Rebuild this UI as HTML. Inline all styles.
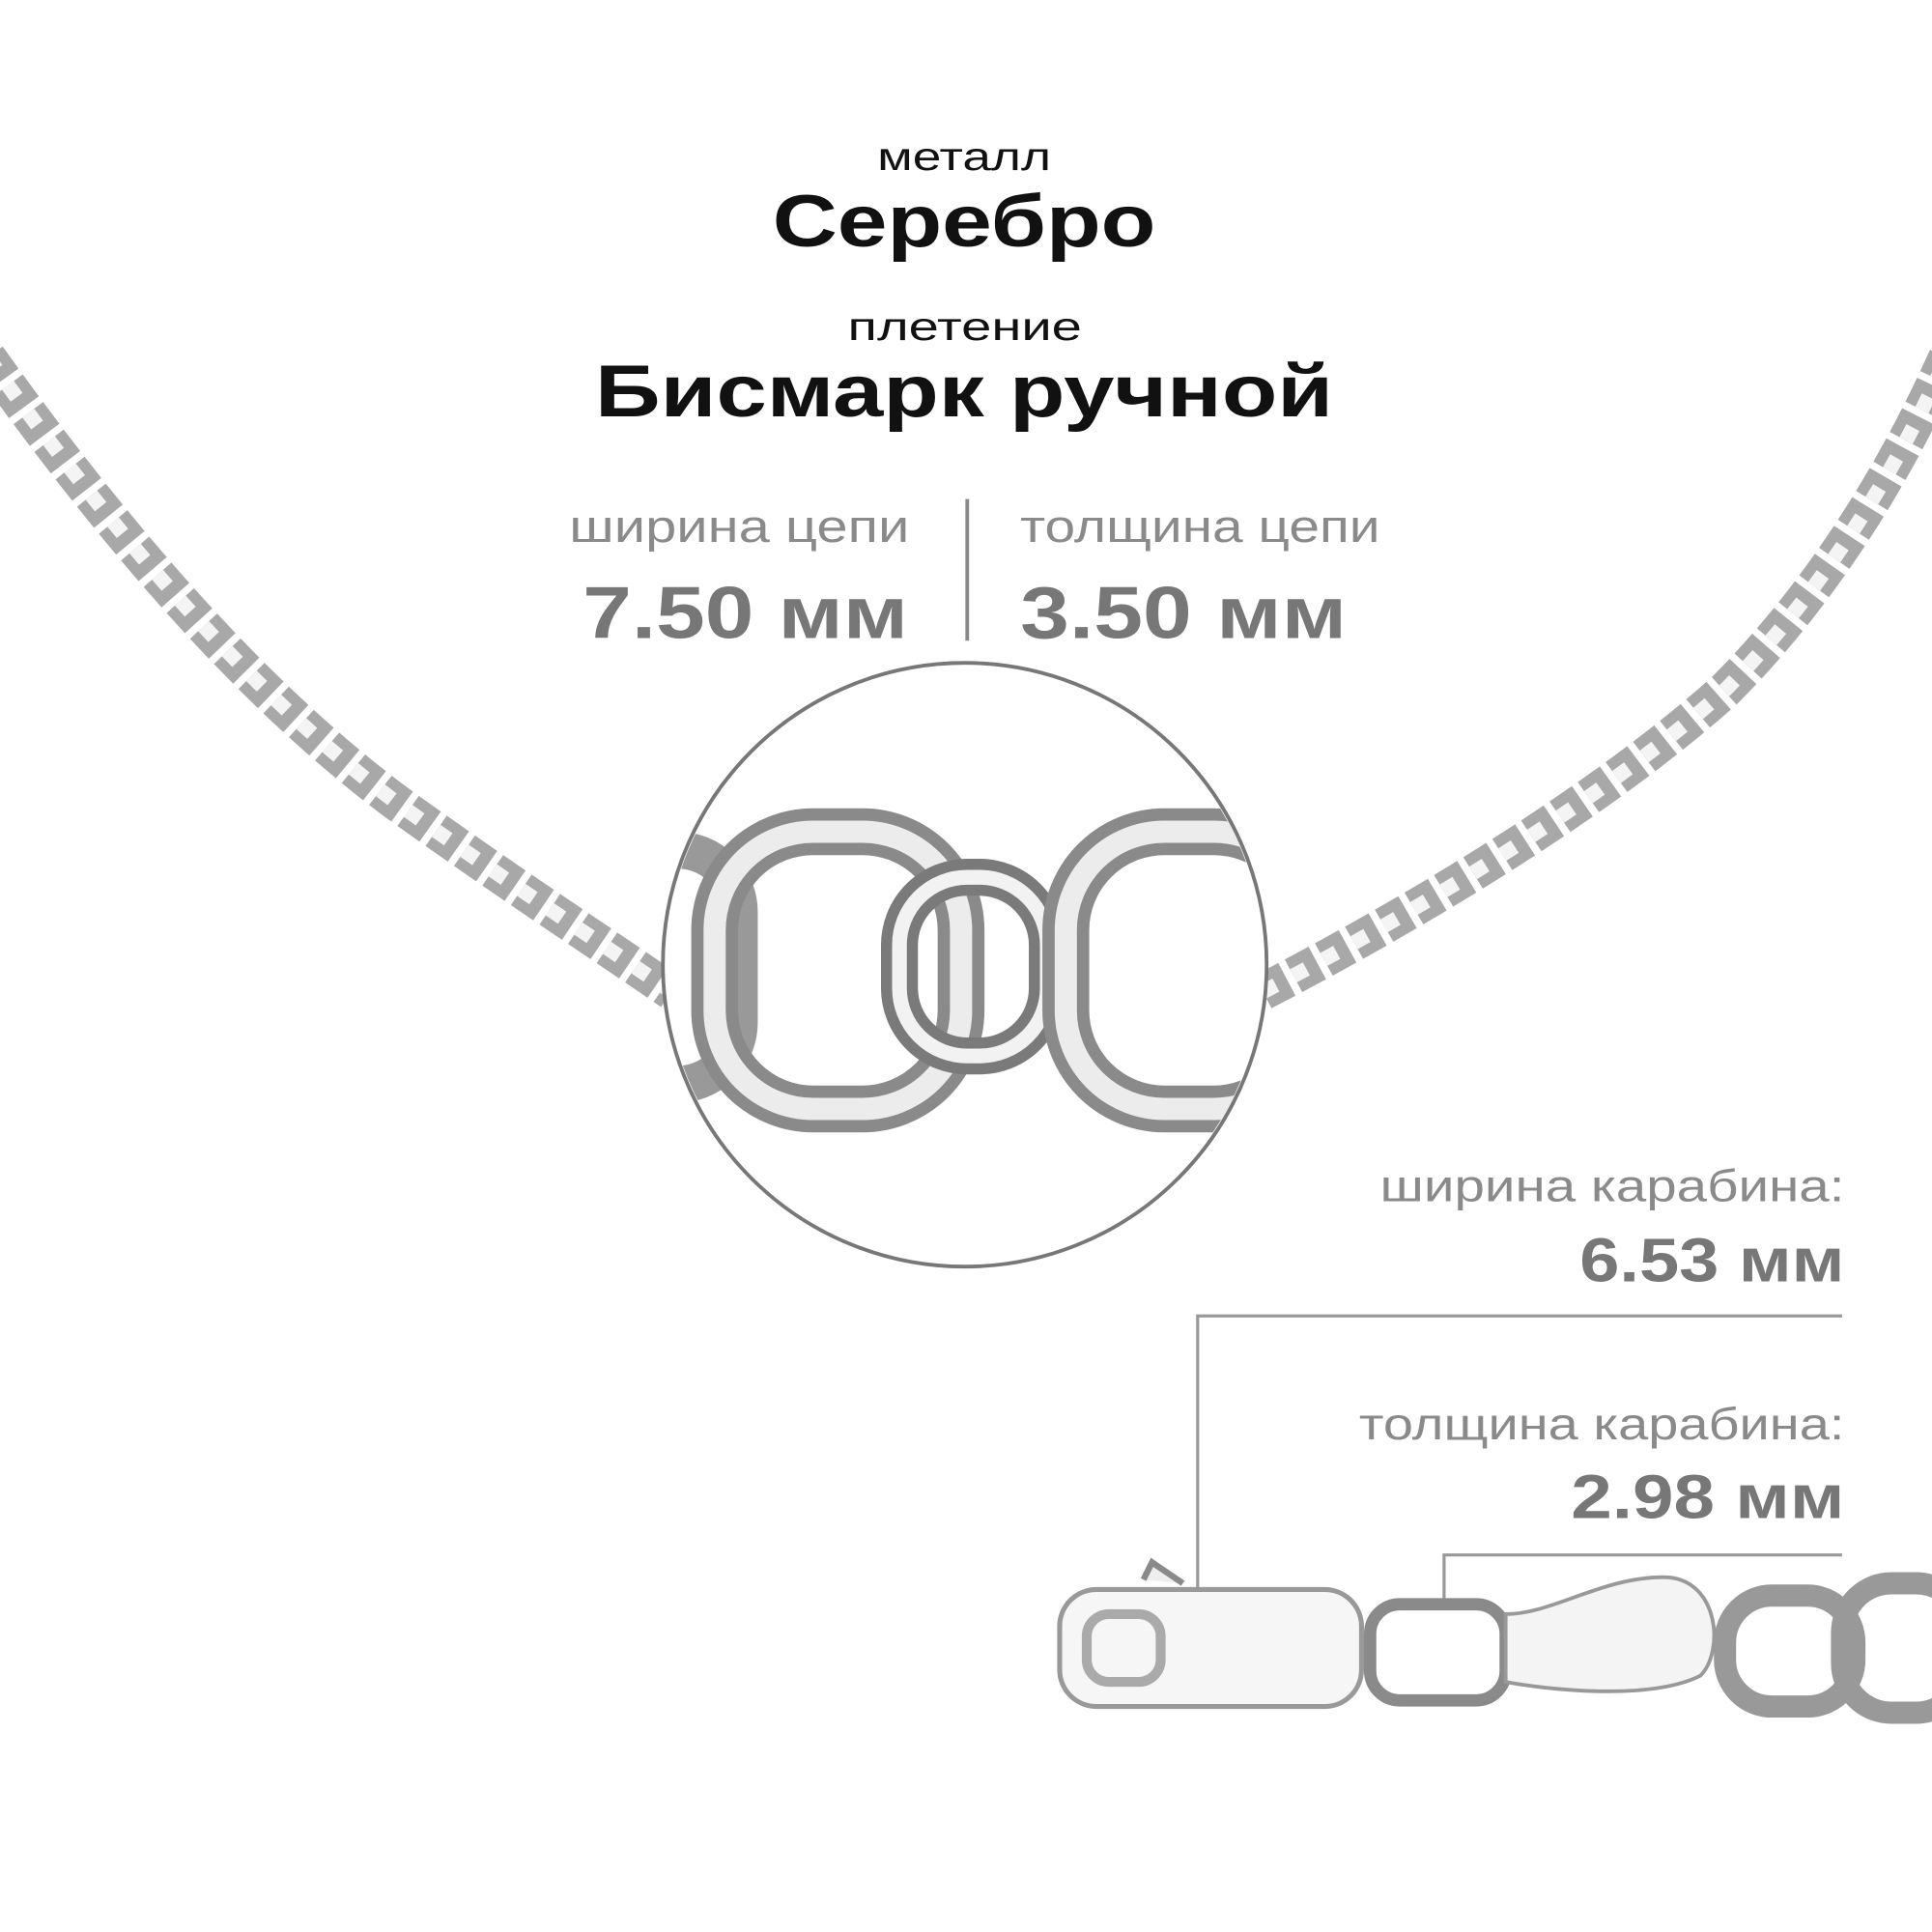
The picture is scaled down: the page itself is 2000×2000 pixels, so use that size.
<!DOCTYPE html>
<html><head><meta charset="utf-8"><style>
html,body{margin:0;padding:0;background:#fff;}
svg{display:block;}
text{font-family:"Liberation Sans",sans-serif;}
</style></head><body>
<svg width="2000" height="2000" viewBox="0 0 1568 1568" xmlns="http://www.w3.org/2000/svg">
<defs>
<clipPath id="cc"><circle cx="783" cy="783" r="243"/></clipPath>
</defs>
<rect width="1568" height="1568" fill="#fff"/>
<g fill="none" stroke-linecap="butt">
<path d="M-10,290 C90,430 200,560 320,650 C410,715 480,760 545,805" stroke="#a8a8a8" stroke-width="30" stroke-dasharray="22 6"/>
<path d="M-10,290 C90,430 200,560 320,650 C410,715 480,760 545,805" stroke="#f4f4f4" stroke-width="12" stroke-dasharray="12 16"/>
<path d="M1025,805 C1150,740 1300,650 1400,560 C1480,480 1540,380 1580,290" stroke="#a8a8a8" stroke-width="30" stroke-dasharray="22 6"/>
<path d="M1025,805 C1150,740 1300,650 1400,560 C1480,480 1540,380 1580,290" stroke="#f4f4f4" stroke-width="12" stroke-dasharray="12 16"/>
</g>
<circle cx="783" cy="783" r="245" fill="#fff" stroke="#777" stroke-width="3"/>
<g clip-path="url(#cc)" fill="none">
<rect x="480" y="690" width="120" height="190" rx="50" stroke="#999" stroke-width="30"/>
<rect x="580" y="675" width="200" height="225" rx="80" stroke="#8a8a8a" stroke-width="38"/>
<rect x="580" y="675" width="200" height="225" rx="80" stroke="#ececec" stroke-width="18"/>
<rect x="730" y="712" width="120" height="145" rx="55" stroke="#7a7a7a" stroke-width="30"/>
<rect x="730" y="712" width="120" height="145" rx="55" stroke="#f2f2f2" stroke-width="12"/>
<rect x="865" y="675" width="200" height="225" rx="80" stroke="#8a8a8a" stroke-width="38"/>
<rect x="865" y="675" width="200" height="225" rx="80" stroke="#ececec" stroke-width="18"/>
</g>
<g fill="#111">
<text x="712" y="138" font-size="32" textLength="141" lengthAdjust="spacingAndGlyphs">металл</text>
<text x="627" y="200" font-size="60" font-weight="bold" textLength="311" lengthAdjust="spacingAndGlyphs">Серебро</text>
<text x="688" y="276" font-size="32" textLength="190" lengthAdjust="spacingAndGlyphs">плетение</text>
<text x="483" y="338" font-size="60" font-weight="bold" textLength="599" lengthAdjust="spacingAndGlyphs">Бисмарк ручной</text>
</g>
<text x="462" y="440" font-size="37" fill="#8a8a8a" textLength="276" lengthAdjust="spacingAndGlyphs">ширина цепи</text>
<text x="828" y="440" font-size="37" fill="#8a8a8a" textLength="292" lengthAdjust="spacingAndGlyphs">толщина цепи</text>
<text x="473" y="518" font-size="60" font-weight="bold" fill="#777" textLength="264" lengthAdjust="spacingAndGlyphs">7.50 мм</text>
<text x="828" y="518" font-size="60" font-weight="bold" fill="#777" textLength="265" lengthAdjust="spacingAndGlyphs">3.50 мм</text>
<line x1="785" y1="405" x2="785" y2="520" stroke="#888" stroke-width="3"/>
<text x="1120" y="975" font-size="36" fill="#8a8a8a" textLength="377" lengthAdjust="spacingAndGlyphs">ширина карабина:</text>
<text x="1282" y="1040" font-size="50" font-weight="bold" fill="#777" textLength="215" lengthAdjust="spacingAndGlyphs">6.53 мм</text>
<text x="1103" y="1168" font-size="36" fill="#8a8a8a" textLength="394" lengthAdjust="spacingAndGlyphs">толщина карабина:</text>
<text x="1275" y="1232" font-size="50" font-weight="bold" fill="#777" textLength="222" lengthAdjust="spacingAndGlyphs">2.98 мм</text>
<g stroke="#999" stroke-width="2.5" fill="none">
<polyline points="1495,1068 972,1068 972,1290"/>
<polyline points="1495,1262 1172,1262 1172,1300"/>
</g>
<g fill="none">
<path d="M928,1282 L935,1268 L960,1285" stroke="#8a8a8a" stroke-width="5" fill="#eee"/>
<rect x="860" y="1290" width="245" height="95" rx="30" fill="#f6f6f6" stroke="#999" stroke-width="4"/>
<rect x="882" y="1310" width="60" height="55" rx="18" stroke="#aaa" stroke-width="8"/>
<rect x="1112" y="1302" width="110" height="78" rx="24" stroke="#8a8a8a" stroke-width="10"/>
<path d="M1222,1310 C1260,1310 1300,1280 1350,1280 C1395,1280 1400,1340 1380,1360 C1340,1380 1260,1372 1222,1365 Z" fill="#f4f4f4" stroke="#999" stroke-width="3"/>
<rect x="1400" y="1295" width="105" height="90" rx="38" stroke="#999" stroke-width="18"/>
<rect x="1495" y="1285" width="100" height="105" rx="40" stroke="#999" stroke-width="18"/>
</g>
</svg>
</body></html>
